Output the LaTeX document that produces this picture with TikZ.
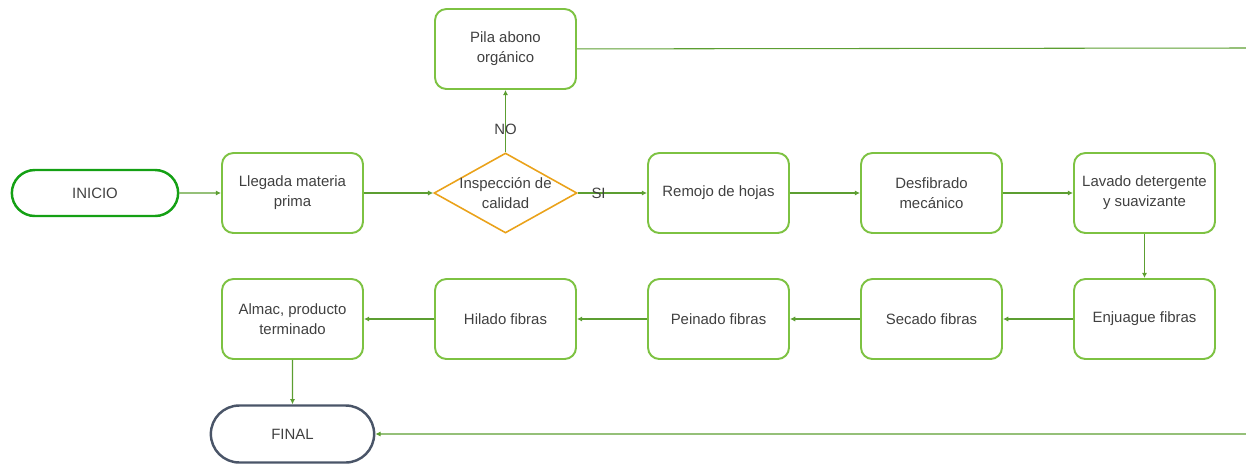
\documentclass[tikz,border=0pt]{standalone}
\usepackage{fontspec}
\setmainfont{Liberation Sans}
\usepackage{xcolor}
\usetikzlibrary{positioning,shapes.geometric,shapes.misc,arrows.meta}

\definecolor{boxgreen}{HTML}{7DC242}
\definecolor{linegreen}{HTML}{5C9E31}
\definecolor{startgreen}{HTML}{14A014}
\definecolor{endgray}{HTML}{4A5568}
\definecolor{decorange}{HTML}{EAA21A}
\definecolor{txtgray}{HTML}{404040}

\tikzset{
  paso/.style={draw=boxgreen,line width=1.1pt,rectangle,rounded corners=6.5pt,
    minimum width=2.82cm,minimum height=1.6cm,align=center,text=txtgray},
  extremo/.style={rounded rectangle,line width=1.4pt,align=center,text=txtgray,
    minimum height=0.92cm},
  decision/.style={draw=decorange,line width=0.9pt,diamond,inner xsep=-12pt,inner ysep=-6pt,
    minimum width=2.86cm,minimum height=1.6cm,align=center,text=txtgray},
  flecha/.style={draw=linegreen,line width=0.6pt},
  etiq/.style={text=txtgray,inner sep=0pt}
}

\begin{document}
\begin{tikzpicture}[node distance=2.52cm and 4.26cm,on grid,>={Latex[length=3pt,width=3pt]},
    font=\fontsize{8.5}{11.3}\selectfont]
    \useasboundingbox (0,0) rectangle (24.92,-9.26);
    \node[extremo,draw=startgreen,minimum width=3.56cm] (ini) at (1.9,-3.86) {INICIO};
    \node[paso] (llegada)  [right=3.95cm of ini]   {Llegada materia\\prima};
    \node[decision] (insp) [right=of llegada]      {Inspección de\\calidad};
    \node[paso] (pila)     [above=2.88cm of insp]  {Pila abono\\orgánico};
    \node[paso] (remojo)   [right=of insp]         {Remojo de hojas};
    \node[paso] (desf)     [right=of remojo]       {Desfibrado\\mecánico};
    \node[paso] (lavado)   [right=of desf]         {Lavado detergente\\y suavizante};
    \node[paso] (enjuague) [below=of lavado]       {Enjuague fibras};
    \node[paso] (secado)   [left=of enjuague]      {Secado fibras};
    \node[paso] (peinado)  [left=of secado]        {Peinado fibras};
    \node[paso] (hilado)   [left=of peinado]       {Hilado fibras};
    \node[paso] (almac)    [left=of hilado]        {Almac, producto\\terminado};
    \node[extremo,draw=endgray,minimum width=3.5cm,minimum height=1.14cm] (final)
      [below=2.3cm of almac] {FINAL};
    \coordinate (salida)  at (24.92,-0.96);
    \coordinate (entrada) at (24.92,-8.68);
    \path[->]
    (ini) edge[flecha] (llegada)
    (llegada) edge[flecha] (insp)
    % decision
    (insp) edge[flecha] node[etiq,pos=0.3] {SI} (remojo)
    (insp) edge[flecha] node[etiq,pos=0.375] {NO} (pila)
    % top row
    (remojo) edge[flecha] (desf)
    (desf) edge[flecha] (lavado)
    (lavado) edge[flecha] (enjuague)
    % bottom row
    (enjuague) edge[flecha] (secado)
    (secado) edge[flecha] (peinado)
    (peinado) edge[flecha] (hilado)
    (hilado) edge[flecha] (almac)
    (almac) edge[flecha] (final);
    % lines to the border
    \draw[flecha] (pila) -- (salida);
    \draw[flecha,->] (entrada) -- (final);
\end{tikzpicture}
\end{document}
